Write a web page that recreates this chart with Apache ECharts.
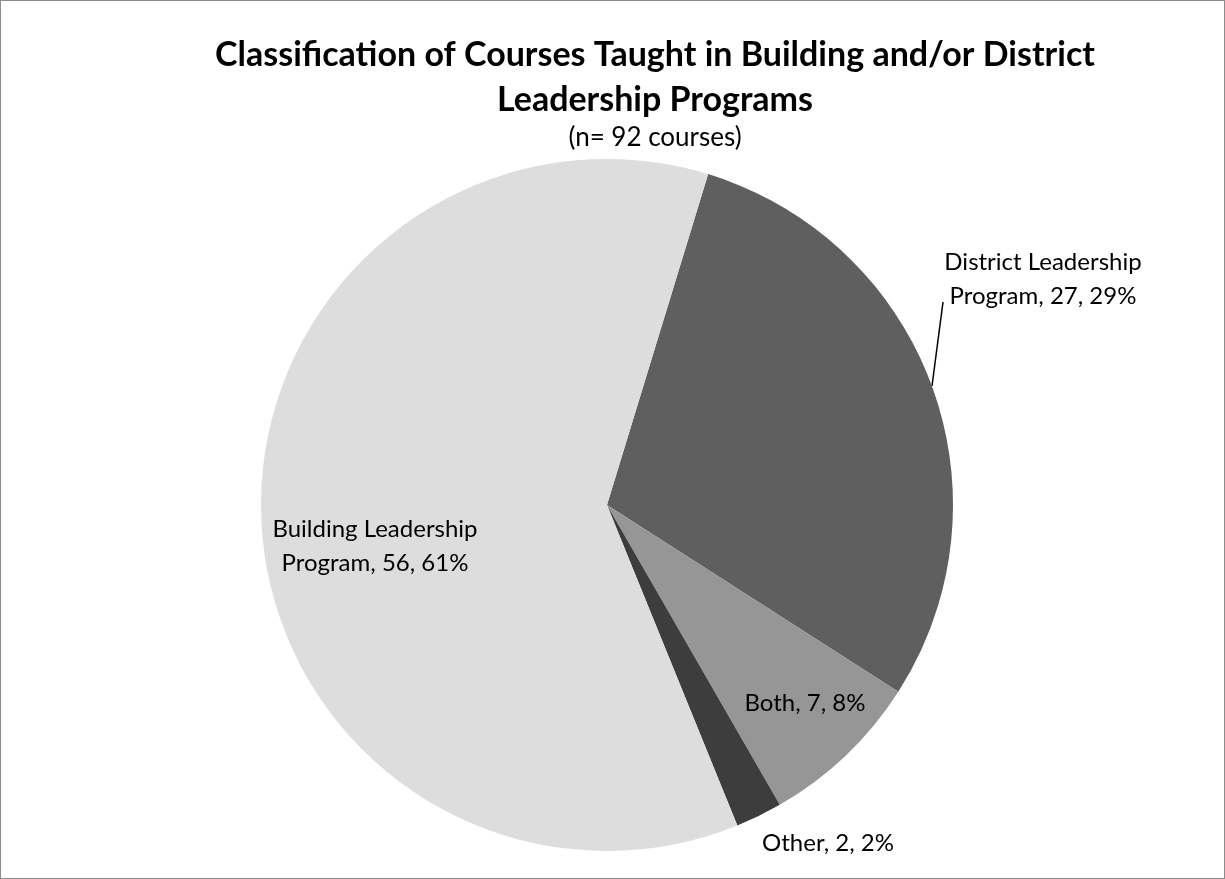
<!DOCTYPE html>
<html>
<head>
<meta charset="utf-8">
<script src="https://cdn.jsdelivr.net/npm/echarts@6/dist/echarts.min.js"></script>
<style>
  * { margin: 0; padding: 0; }
  html, body { background: #fff; }
  #main { width: 1225px; height: 879px; box-sizing: border-box; border: 1px solid #8c8c8c; }
</style>
</head>
<body>
<div id="main"></div>
<script>
  // data
  var categories = ['District Leadership Program', 'Both', 'Other', 'Building Leadership Program'];
  var counts = [27, 7, 2, 56];
  var sliceColors = ['#5f5f5f', '#969696', '#3d3d3d', '#dddddd'];
  var labelInside = [false, true, false, true];

  // label centres (px) for each slice, in the same order
  var labelSpots = [[1042, 278], [804, 702], [827, 842], [374, 545]];

  var chart = echarts.init(document.getElementById('main'));

  var pieData = categories.map(function (name, i) {
    return {
      name: name,
      value: counts[i],
      itemStyle: { color: sliceColors[i] },
      label: { position: labelInside[i] ? 'inside' : 'outside' },
      labelLine: { show: i === 0 }
    };
  });

  chart.setOption({
    animation: false,
    title: [
      {
        text: 'Classification of Courses Taught in Building and/or District\nLeadership Programs',
        left: 649,
        textAlign: 'center',
        top: 27,
        textStyle: { fontFamily: 'Lato', fontWeight: 'bold', fontSize: 34, color: '#000', lineHeight: 45 }
      },
      {
        text: '(n= 92 courses)',
        left: 649,
        textAlign: 'center',
        top: 119,
        textStyle: { fontFamily: 'Lato', fontWeight: 'normal', fontSize: 26, color: '#000' }
      }
    ],
    series: [
      {
        type: 'pie',
        center: [606, 504],
        radius: 346,
        startAngle: 73,
        clockwise: true,
        percentPrecision: 0,
        data: pieData,
        itemStyle: { borderWidth: 0 },
        label: {
          show: true,
          overflow: 'none',
          fontFamily: 'Lato',
          fontSize: 24,
          lineHeight: 34,
          color: '#000',
          align: 'center',
          formatter: function (p) {
            return p.name.replace(' Program', '\nProgram') + ', ' + p.value + ', ' + p.percent + '%';
          }
        },
        labelLine: { lineStyle: { color: '#000', width: 1.5 } },
        labelLayout: function (p) {
          var s = labelSpots[p.dataIndex];
          var out = { x: s[0], y: s[1], align: 'center', verticalAlign: 'middle' };
          if (p.dataIndex === 0) {
            out.labelLinePoints = [[931, 385], [942, 301], [942, 301]];
          }
          return out;
        },
        emphasis: { disabled: true }
      }
    ]
  });
</script>
</body>
</html>
